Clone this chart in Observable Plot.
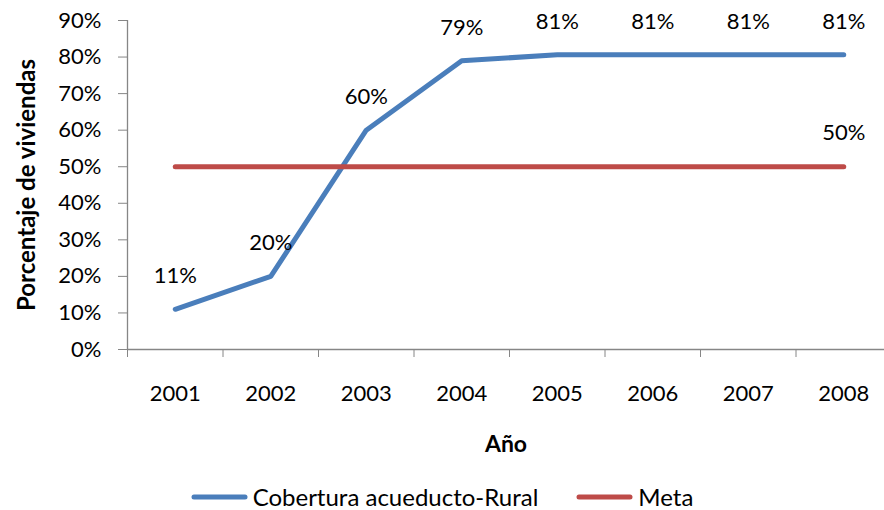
<!DOCTYPE html>
<html>
<head>
<meta charset="utf-8">
<script src="https://cdn.jsdelivr.net/npm/d3@7"></script>
<script src="https://cdn.jsdelivr.net/npm/@observablehq/plot@0.6"></script>
<style>
  body { margin: 0; background: white; font-family: Lato, "Open Sans", sans-serif; }
  #legend { display: flex; justify-content: center; align-items: center; gap: 38px; margin-top: 13px; font-size: 24px; line-height: 28px; width: 884px; }
  .item { display: flex; align-items: center; gap: 5px; }
</style>
</head>
<body>
<div id="chart"></div>
<div id="legend"></div>
<script>
const years = [2001, 2002, 2003, 2004, 2005, 2006, 2007, 2008];
const cobertura = [0.11, 0.20, 0.60, 0.79, 0.806, 0.806, 0.806, 0.806];
const meta = [0.50, 0.50, 0.50, 0.50, 0.50, 0.50, 0.50, 0.50];
const yTicks = [0, 0.1, 0.2, 0.3, 0.4, 0.5, 0.6, 0.7, 0.8, 0.9];
const seriesNames = ["Cobertura acueducto-Rural", "Meta"];
const colors = ["#4A7EBB", "#BE4B48"];
const xTitle = "Año";
const yTitle = "Porcentaje de viviendas";

const fmt = d3.format(".0%");
const cobRows = years.map((y, i) => ({year: y, value: cobertura[i], serie: seriesNames[0]}));
const metaRows = years.map((y, i) => ({year: y, value: meta[i], serie: seriesNames[1]}));
const rows = cobRows.concat(metaRows);
const boundaries = years.map(y => y - 0.5);

const chart = Plot.plot({
  width: 884,
  height: 470,
  marginLeft: 127,
  marginTop: 20,
  marginRight: 0,
  marginBottom: 121,
  style: {fontFamily: "Lato, 'Open Sans', sans-serif", fontSize: "22px", color: "#000", background: "white", overflow: "visible"},
  x: {type: "linear", domain: [years[0] - 0.5, years[years.length - 1] + 0.5], range: [127, 891]},
  y: {domain: [0, 0.9]},
  color: {domain: seriesNames, range: colors},
  marks: [
    Plot.axisY({ticks: yTicks, tickFormat: fmt, tickSize: 9, tickPadding: 17, stroke: "#868686", label: null}),
    Plot.axisX({ticks: boundaries, tickSize: 8, tickFormat: () => "", stroke: "#868686", label: null}),
    Plot.axisX({ticks: years, tickSize: 0, tickPadding: 36, tickFormat: d => String(d), label: null}),
    Plot.ruleX([years[0] - 0.5], {stroke: "#868686", strokeWidth: 1.3}),
    Plot.ruleY([0], {stroke: "#868686", strokeWidth: 1.3}),
    Plot.line(rows, {x: "year", y: "value", z: "serie", stroke: "serie", strokeWidth: 5, strokeLinecap: "round", strokeLinejoin: "round"}),
    Plot.text(cobRows, {x: "year", y: "value", text: d => fmt(d.value), dy: -33, lineAnchor: "middle"}),
    Plot.text([metaRows[metaRows.length - 1]], {x: "year", y: "value", text: d => fmt(d.value), dy: -34, lineAnchor: "middle"}),
    Plot.text([xTitle], {frameAnchor: "bottom", text: d => d, dy: 95, fontWeight: "bold", fontSize: 23, lineAnchor: "middle"}),
    Plot.text([yTitle], {frameAnchor: "left", text: d => d, dx: -100, rotate: -90, textAnchor: "middle", fontWeight: "bold", fontSize: 24, lineAnchor: "middle"})
  ]
});
document.getElementById("chart").appendChild(chart);

const legend = d3.select("#legend");
seriesNames.forEach((name, i) => {
  const item = legend.append("div").attr("class", "item");
  const svg = item.append("svg").attr("width", 57).attr("height", 8);
  svg.append("line").attr("x1", 3).attr("x2", 54).attr("y1", 4).attr("y2", 4)
    .attr("stroke", colors[i]).attr("stroke-width", 5).attr("stroke-linecap", "round");
  item.append("span").text(name);
});
</script>
</body>
</html>
